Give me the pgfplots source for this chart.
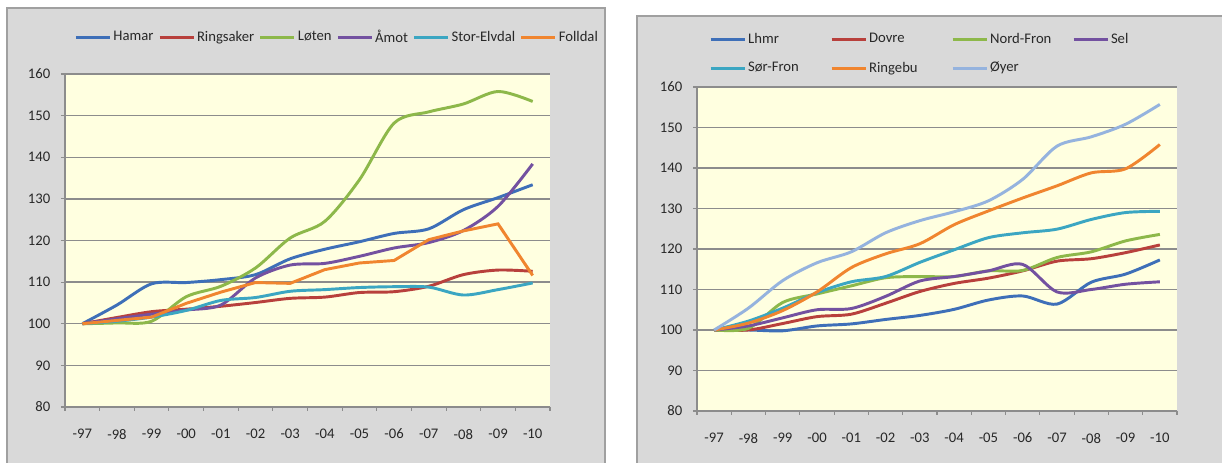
\documentclass[border=0pt]{standalone}
\usepackage{fontspec}
\setmainfont{Carlito}
\usepackage{pgfplots}
\pgfplotsset{compat=1.18}

\definecolor{chartbg}{RGB}{217,217,217}
\definecolor{chartframe}{RGB}{160,160,160}
\definecolor{plotbg}{RGB}{255,255,224}
\definecolor{gridgray}{RGB}{140,140,140}
\definecolor{labelgray}{RGB}{40,40,40}
\definecolor{cblue}{RGB}{62,111,184}
\definecolor{cred}{RGB}{184,64,60}
\definecolor{cgreen}{RGB}{141,184,74}
\definecolor{cpurple}{RGB}{115,81,160}
\definecolor{cteal}{RGB}{59,166,194}
\definecolor{corange}{RGB}{240,133,47}
\definecolor{clight}{RGB}{149,179,222}

\pgfplotsset{
  excel/.style={
    scale only axis,
    xmin=-0.5, xmax=13.5,
    ymin=80, ymax=160,
    ytick={80,90,...,160},
    ymajorgrids,
    grid style={gridgray, line width=1pt},
    axis background/.style={fill=plotbg},
    axis x line*=bottom,
    axis y line*=left,
    axis line style={gridgray, line width=1pt, -},
    xtick={-0.5,0.5,...,13.5},
    xticklabels={},
    extra x ticks={0,1,...,13},
    extra x tick labels={-97,-98,-99,-00,-01,-02,-03,-04,-05,-06,-07,-08,-09,-10},
    extra x tick style={major tick length=0pt, grid=none},
    tick align=outside,
    major tick length=3pt,
    tick style={gridgray, line width=0.8pt},
    ticklabel style={font=\fontsize{11}{13}\selectfont, text=labelgray},
    /pgf/number format/assume math mode=true,
    xticklabel style={yshift=-13pt},
    yticklabel style={xshift=-4.5pt},
    every axis plot/.append style={line width=2.2pt},
    legend image code/.code={\draw[#1] (0pt,0pt) -- (25.5pt,0pt);},
    legend style={draw=none, fill=none, inner sep=0pt, anchor=west,
      font=\fontsize{11}{13}\selectfont, text=labelgray,
      nodes={inner sep=1.5pt}},
    legend cell align=left,
  }
}

\begin{document}
\begin{tikzpicture}
\useasboundingbox (0,0) rectangle (916.5pt,347.25pt);
\fill[white] (0,0) rectangle (916.5pt,347.25pt);
\filldraw[fill=chartbg, draw=chartframe, line width=0.8pt] (5.25pt,-2pt) rectangle (453.75pt,341.25pt);
\filldraw[fill=chartbg, draw=chartframe, line width=0.8pt] (477.75pt,-2pt) rectangle (920pt,335.25pt);

% left chart
\begin{axis}[excel,
  at={(48.75pt,42pt)}, anchor=south west,
  width=363.75pt, height=249.75pt,
  legend columns=6,
  legend style={at={(0.019,1.111)},
    /tikz/every even column/.append style={column sep=2pt}},
]
\addplot[cblue, smooth] coordinates {(0,100) (1,104.5) (2,109.6) (3,109.9) (4,110.6) (5,111.8) (6,115.6) (7,117.9) (8,119.7) (9,121.7) (10,122.8) (11,127.4) (12,130.3) (13,133.4)};
\addlegendentry{Hamar}
\addplot[cred, smooth] coordinates {(0,100) (1,101.5) (2,102.9) (3,103.5) (4,104.2) (5,105.1) (6,106.1) (7,106.4) (8,107.5) (9,107.7) (10,109.0) (11,111.8) (12,112.9) (13,112.6)};
\addlegendentry{Ringsaker}
\addplot[cgreen, smooth] coordinates {(0,100) (1,100.2) (2,100.6) (3,106.5) (4,109.0) (5,113.4) (6,120.6) (7,124.6) (8,134.6) (9,148.2) (10,150.9) (11,152.8) (12,155.8) (13,153.4)};
\addlegendentry{Løten}
\addplot[cpurple, smooth] coordinates {(0,100) (1,101.2) (2,102.3) (3,103.3) (4,104.5) (5,111.0) (6,114.1) (7,114.5) (8,116.2) (9,118.2) (10,119.5) (11,122.4) (12,128.2) (13,138.4)};
\addlegendentry{Åmot}
\addplot[cteal, smooth] coordinates {(0,100) (1,100.6) (2,101.6) (3,103.2) (4,105.6) (5,106.3) (6,107.8) (7,108.2) (8,108.7) (9,108.9) (10,108.8) (11,106.9) (12,108.2) (13,109.8)};
\addlegendentry{Stor-Elvdal}
\addplot[corange] coordinates {(0,100) (1,100.8) (2,101.6) (3,104.9) (4,107.6) (5,109.9) (6,109.7) (7,113.0) (8,114.6) (9,115.2) (10,120.2) (11,122.3) (12,124.0) (13,111.6)};
\addlegendentry{Folldal}
\end{axis}

% right chart
\begin{axis}[excel,
  at={(522.75pt,39pt)}, anchor=south west,
  width=360pt, height=243pt,
  legend columns=4,
  legend style={at={(0.025,1.103)}, row sep=9.5pt},
]
\addplot[cblue, smooth] coordinates {(0,100) (1,100.0) (2,99.8) (3,101.0) (4,101.5) (5,102.6) (6,103.6) (7,105.1) (8,107.4) (9,108.4) (10,106.4) (11,111.8) (12,113.8) (13,117.3)};
\addlegendentry{\makebox[60pt][l]{Lhmr}}
\addplot[cred, smooth] coordinates {(0,100) (1,100.0) (2,101.6) (3,103.3) (4,103.9) (5,106.6) (6,109.5) (7,111.5) (8,112.8) (9,114.6) (10,117.0) (11,117.6) (12,119.1) (13,121.0)};
\addlegendentry{\makebox[60pt][l]{Dovre}}
\addplot[cgreen, smooth] coordinates {(0,100) (1,100.4) (2,106.8) (3,108.9) (4,110.9) (5,112.9) (6,113.2) (7,113.2) (8,114.6) (9,114.7) (10,117.9) (11,119.3) (12,122.0) (13,123.6)};
\addlegendentry{\makebox[60pt][l]{Nord-Fron}}
\addplot[cpurple, smooth] coordinates {(0,100) (1,101.0) (2,103.0) (3,105.0) (4,105.3) (5,108.3) (6,112.1) (7,113.2) (8,114.6) (9,116.2) (10,109.4) (11,110.0) (12,111.3) (13,111.9)};
\addlegendentry{\makebox[60pt][l]{Sel}}
\addplot[cteal, smooth] coordinates {(0,100) (1,102.2) (2,105.4) (3,109.2) (4,111.9) (5,113.2) (6,116.7) (7,119.8) (8,122.8) (9,124.0) (10,124.9) (11,127.3) (12,129.0) (13,129.3)};
\addlegendentry{\makebox[60pt][l]{Sør-Fron}}
\addplot[corange, smooth] coordinates {(0,100) (1,101.7) (2,104.8) (3,109.4) (4,115.4) (5,118.8) (6,121.3) (7,126.0) (8,129.4) (9,132.6) (10,135.6) (11,138.8) (12,139.8) (13,145.8)};
\addlegendentry{\makebox[60pt][l]{Ringebu}}
\addplot[clight, smooth] coordinates {(0,100) (1,105.4) (2,112.2) (3,116.6) (4,119.3) (5,124.0) (6,127.0) (7,129.2) (8,131.9) (9,137.2) (10,145.4) (11,147.7) (12,150.8) (13,155.7)};
\addlegendentry{\makebox[60pt][l]{Øyer}}
\end{axis}
\end{tikzpicture}
\end{document}
